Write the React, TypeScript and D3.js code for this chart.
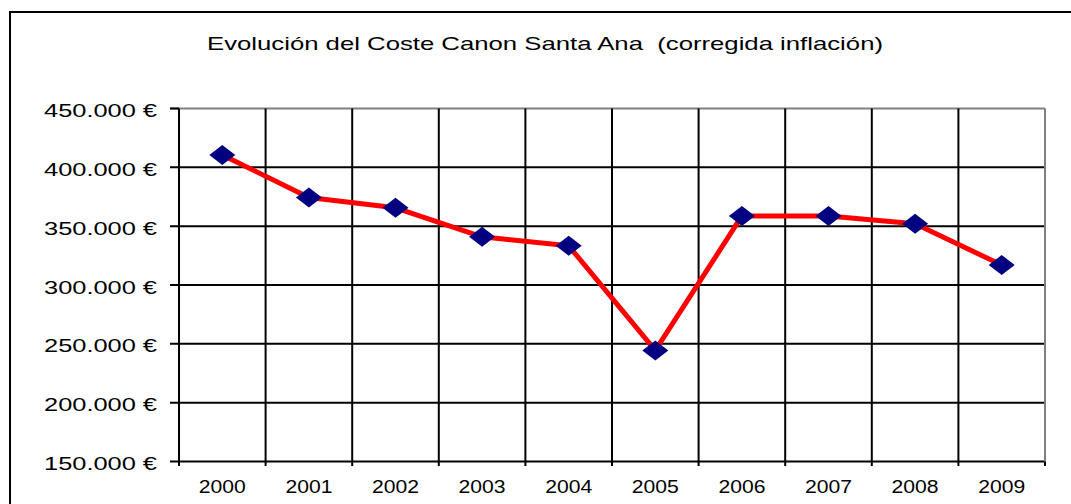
import React from "react";
import * as d3 from "d3";

const years = ["2000", "2001", "2002", "2003", "2004", "2005", "2006", "2007", "2008", "2009"];
const costs = [410500, 374300, 365600, 341000, 333300, 244400, 358700, 358700, 352000, 317000];
const yTicks = [150000, 200000, 250000, 300000, 350000, 400000, 450000];
const title = "Evolución del Coste Canon Santa Ana  (corregida inflación)";

const W = 1071;
const H = 504;
const left = 179;
const right = 1045;
const top = 108.5;
const bottom = 461.5;

export default function App() {
  const x = d3.scaleBand<string>().domain(years).range([left, right]).padding(0);
  const y = d3.scaleLinear().domain([150000, 450000]).range([bottom, top]);
  const cx = (d: string) => (x(d) as number) + x.bandwidth() / 2;
  const fmt = (v: number) => d3.format(",")(v).replace(/,/g, ".") + " €";
  const line = d3
    .line<number>()
    .x((_, i) => cx(years[i]))
    .y((v) => y(v));
  const font = "Arial, 'Liberation Sans', sans-serif";
  const boundaries = years.map((d) => x(d) as number).concat([right]);

  return (
    <svg
      width={W}
      height={H}
      style={{ position: "absolute", left: 0, top: 0, background: "#fff" }}
      fontFamily={font}
    >
      <rect x={0} y={0} width={W} height={H} fill="#fff" />
      {/* outer chart border */}
      <rect x={10} y={12} width={W + 20} height={H + 20} fill="none" stroke="#000" strokeWidth={2} />
      {/* title */}
      <text
        x={545}
        y={50}
        textAnchor="middle"
        fontSize={18.5}
        textLength={676}
        lengthAdjust="spacingAndGlyphs"
        fill="#000"
        style={{ whiteSpace: "pre" }}
        xmlSpace="preserve"
      >
        {title}
      </text>
      {/* horizontal gridlines */}
      {yTicks.map((t) => (
        <line
          key={"h" + t}
          x1={170}
          x2={right}
          y1={y(t)}
          y2={y(t)}
          stroke={t === 450000 ? "#808080" : "#000"}
          strokeWidth={2}
        />
      ))}
      <line x1={170} x2={left} y1={y(450000)} y2={y(450000)} stroke="#000" strokeWidth={2} />
      {/* vertical gridlines */}
      {boundaries.map((bx, i) => (
        <line
          key={"v" + i}
          x1={bx}
          x2={bx}
          y1={top}
          y2={bottom + 4.5}
          stroke={i === boundaries.length - 1 ? "#808080" : "#000"}
          strokeWidth={2}
        />
      ))}
      <line x1={right} x2={right} y1={bottom} y2={bottom + 4.5} stroke="#000" strokeWidth={2} />
      {/* y labels */}
      {yTicks.map((t) => (
        <text
          key={"yl" + t}
          x={157}
          y={y(t) + 8.5}
          textAnchor="end"
          fontSize={19}
          textLength={113}
          lengthAdjust="spacingAndGlyphs"
          fill="#000"
        >
          {fmt(t)}
        </text>
      ))}
      {/* x labels */}
      {years.map((d) => (
        <text
          key={"xl" + d}
          x={cx(d)}
          y={493}
          textAnchor="middle"
          fontSize={17.5}
          textLength={47}
          lengthAdjust="spacingAndGlyphs"
          fill="#000"
        >
          {d}
        </text>
      ))}
      {/* series line */}
      <path d={line(costs) || ""} fill="none" stroke="#FF0000" strokeWidth={5} strokeLinejoin="round" />
      {/* markers */}
      {costs.map((v, i) => {
        const px = cx(years[i]);
        const py = y(v);
        return (
          <path
            key={"m" + i}
            d={`M${px - 13},${py} L${px},${py - 10} L${px + 13},${py} L${px},${py + 10} Z`}
            fill="#000080"
          />
        );
      })}
    </svg>
  );
}
